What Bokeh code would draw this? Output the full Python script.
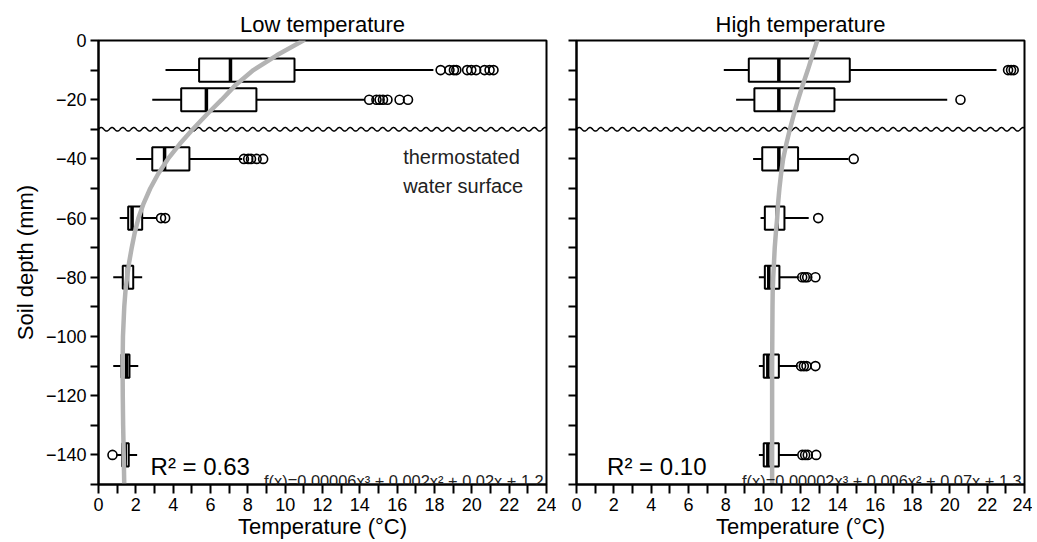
import numpy as np
from bokeh.plotting import figure
from bokeh.layouts import row
from bokeh.models import FixedTicker, Label, ColumnDataSource
from bokeh.embed import file_html
from bokeh.resources import INLINE

FONT = "Liberation Sans"

# ---------------- data ----------------
depths = [-10, -20, -40, -60, -80, -110, -140]

# Low temperature box statistics
low_wlo = [3.59, 2.88, 2.02, 1.14, 0.79, 0.79, 0.96]
low_q1 = [5.39, 4.43, 2.88, 1.59, 1.30, 1.23, 1.27]
low_med = [7.07, 5.78, 3.54, 1.80, 1.55, 1.50, 1.43]
low_q3 = [10.50, 8.46, 4.87, 2.34, 1.86, 1.66, 1.62]
low_whi = [17.94, 14.25, 7.70, 3.14, 2.34, 2.13, 2.07]
low_out_x = [18.33, 18.8, 19.04, 19.17, 19.75, 19.97, 20.23, 20.68, 20.95, 21.16,
             14.5, 14.89, 15.06, 15.24, 15.48, 16.13, 16.58,
             7.79, 8.02, 8.17, 8.47, 8.82,
             3.35, 3.57,
             0.75]
low_out_y = [-10] * 10 + [-20] * 7 + [-40] * 5 + [-60] * 2 + [-140]

# High temperature box statistics
high_wlo = [7.89, 8.55, 9.46, 9.86, 9.77, 9.77, 9.77]
high_q1 = [9.23, 9.53, 9.95, 10.09, 10.09, 10.03, 10.03]
high_med = [10.84, 10.84, 10.84, 10.75, 10.30, 10.25, 10.25]
high_q3 = [14.64, 13.82, 11.87, 11.14, 10.87, 10.84, 10.84]
high_whi = [22.5, 19.86, 14.58, 12.44, 11.91, 11.85, 11.85]
high_out_x = [23.12, 23.28, 23.42,
              20.57,
              14.85,
              12.95,
              12.09, 12.23, 12.36, 12.8,
              12.03, 12.18, 12.32, 12.8,
              12.1, 12.25, 12.39, 12.84]
high_out_y = [-10] * 3 + [-20] + [-40] + [-60] + [-80] * 4 + [-110] * 4 + [-140] * 4

# fitted curves
fit_depth = [0, -5, -10, -15, -20, -25, -30, -35, -40, -45, -50, -55, -60, -65, -70, -75, -80,
             -85, -90, -100, -110, -120, -130, -140, -150]
low_fit = [10.97, 9.55, 8.3, 7.35, 6.6, 5.8, 5.05, 4.35, 3.72, 3.2, 2.77, 2.42, 2.14, 1.94, 1.78, 1.64, 1.53,
           1.44, 1.38, 1.31, 1.29, 1.30, 1.32, 1.35, 1.38]
high_fit = [12.9, 12.64, 12.39, 12.12, 11.87, 11.64, 11.43, 11.24, 11.07, 10.96, 10.87, 10.8, 10.75, 10.68, 10.62, 10.58, 10.54,
            10.51, 10.5, 10.49, 10.48, 10.48, 10.48, 10.48, 10.48]

titles = ["Low temperature", "High temperature"]
r2_texts = ["R\u00b2 = 0.63", "R\u00b2 = 0.10"]
formulas = ["f(x)=0.00006x\u00b3 + 0.002x\u00b2 + 0.02x + 1.2",
            "f(x)=0.00002x\u00b3 + 0.006x\u00b2 + 0.07x + 1.3"]
x_ticks = list(range(0, 25))
y_ticks = list(range(-150, 1, 10))
water_depth = -30

BOX_H = 3.9


def make_panel(idx, wlo, q1, med, q3, whi, out_x, out_y, fit, width, mbl, mbr, show_ylabels):
    p = figure(width=width, height=542, x_range=(0, 24), y_range=(-150, 0),
               output_backend="svg", toolbar_location=None,
               min_border_left=mbl, min_border_right=mbr, min_border_top=40, min_border_bottom=58)
    p.xgrid.visible = False
    p.ygrid.visible = False
    p.outline_line_color = "black"
    p.outline_line_width = 2
    p.background_fill_color = "white"
    p.border_fill_color = "white"

    p.title.text = titles[idx]
    p.title.align = "center"
    p.title.text_font = FONT
    p.title.text_font_size = "22px"
    p.title.text_font_style = "normal"
    p.title.text_color = "black"
    p.title.standoff = 7

    # axes
    p.xaxis.ticker = FixedTicker(ticks=x_ticks)
    p.xaxis.major_label_overrides = {t: (str(t) if t % 2 == 0 else "") for t in x_ticks}
    p.xaxis.axis_label = "Temperature (\u00b0C)"
    p.xaxis.axis_label_standoff = 0
    p.yaxis.ticker = FixedTicker(ticks=y_ticks)
    if show_ylabels:
        p.yaxis.major_label_overrides = {t: (("\u2212" + str(-t)) if t < 0 else "0") if t % 20 == 0 else ""
                                         for t in y_ticks}
        p.yaxis.axis_label = "Soil depth (mm)"
        p.yaxis.axis_label_standoff = 5
    else:
        p.yaxis.major_label_overrides = {t: "" for t in y_ticks}
    for ax in (p.xaxis[0], p.yaxis[0]):
        ax.axis_line_width = 2
        ax.axis_line_color = "black"
        ax.major_tick_line_width = 2
        ax.major_tick_line_color = "black"
        ax.major_tick_in = 0
        ax.minor_tick_line_color = None
        ax.major_label_text_font = FONT
        ax.major_label_text_font_size = "18px"
        ax.major_label_text_color = "black"
        ax.major_label_standoff = 4
        ax.axis_label_text_font = FONT
        ax.axis_label_text_font_size = "22px"
        ax.axis_label_text_font_style = "normal"
        ax.axis_label_text_color = "black"
    p.xaxis.major_tick_out = 9
    p.yaxis.major_tick_out = 8

    # water surface wave (decoration)
    wx = np.linspace(0, 24, 1500)
    wy = water_depth + 0.6 * np.sin(2 * np.pi * wx / 0.58)
    p.line(wx, wy, line_color="black", line_width=1.5)

    src = ColumnDataSource(dict(d=depths, wlo=wlo, q1=q1, med=med, q3=q3, whi=whi,
                                bot=[d - BOX_H for d in depths], top=[d + BOX_H for d in depths]))
    p.segment(x0="wlo", y0="d", x1="q1", y1="d", source=src, line_color="black", line_width=2)
    p.segment(x0="q3", y0="d", x1="whi", y1="d", source=src, line_color="black", line_width=2)
    p.quad(left="q1", right="q3", bottom="bot", top="top", source=src,
           fill_color="white", line_color="black", line_width=2)
    p.segment(x0="med", y0="bot", x1="med", y1="top", source=src, line_color="black", line_width=3.5)
    p.scatter(out_x, out_y, marker="circle", size=9, fill_alpha=0,
              line_color="black", line_width=1.6)

    p.line(fit, fit_depth, line_color="#b3b3b3", line_width=4.5, line_cap="round")

    # texts inside the frame
    r2x = 2.79 if idx == 0 else 1.64
    p.add_layout(Label(x=r2x, y=-143.8, text=r2_texts[idx], text_align="left",
                       text_baseline="alphabetic", text_font=FONT, text_font_size="24px",
                       text_color="black"))
    p.add_layout(Label(x=23.85, y=-148.9, text=formulas[idx], text_align="right",
                       text_baseline="alphabetic", text_font=FONT, text_font_size="16.4px",
                       text_color="#222222"))
    if idx == 0:
        p.add_layout(Label(x=16.32, y=-39.4, text="thermostated", text_align="left",
                           text_baseline="alphabetic", text_font=FONT, text_font_size="20px",
                           text_color="#222222"))
        p.add_layout(Label(x=16.32, y=-49.0, text="water surface", text_align="left",
                           text_baseline="alphabetic", text_font=FONT, text_font_size="20px",
                           text_color="#222222"))
    return p


p1 = make_panel(0, low_wlo, low_q1, low_med, low_q3, low_whi, low_out_x, low_out_y, low_fit,
                556, 98, 10, True)
p2 = make_panel(1, high_wlo, high_q1, high_med, high_q3, high_whi, high_out_x, high_out_y, high_fit,
                476, 20, 8, False)

layout = row(p1, p2)
open("out.html", "w").write(file_html(layout, INLINE))
